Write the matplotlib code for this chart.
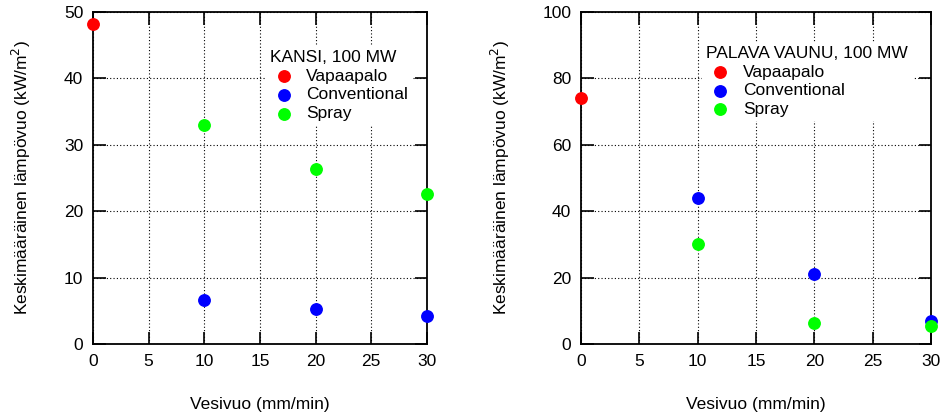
import matplotlib.pyplot as plt

plt.rcParams["font.family"] = ["Liberation Sans", "DejaVu Sans"]
plt.rcParams["font.size"] = 12.5

# Water flow (mm/min)
x_free = [0]
x_sup = [10, 20, 30]

# KANSI, 100 MW
kansi_vapaa = [48.2]
kansi_conv = [6.7, 5.3, 4.2]
kansi_spray = [33.0, 26.3, 22.6]

# PALAVA VAUNU, 100 MW
vaunu_vapaa = [74.0]
vaunu_conv = [44.0, 21.2, 6.8]
vaunu_spray = [30.0, 6.2, 5.3]

red = "#ff0000"
blue = "#0000ff"
green = "#00ff00"

fig = plt.figure(figsize=(9.44, 4.15), dpi=100)
ax1 = fig.add_axes([0.0985, 0.171, 0.3538, 0.800])
ax2 = fig.add_axes([0.6155, 0.171, 0.3708, 0.800])


def draw(ax, vapaa, conv, spray, title, ymax, legx, legy):
    ax.scatter(x_free, vapaa, s=68, color=red, label="Vapaapalo", zorder=3, clip_on=False)
    ax.scatter(x_sup, conv, s=68, color=blue, label="Conventional", zorder=3, clip_on=False)
    ax.scatter(x_sup, spray, s=68, color=green, label="Spray", zorder=3, clip_on=False)
    ax.set_xlim(0, 30)
    ax.set_ylim(0, ymax)
    ax.set_xticks(range(0, 31, 5))
    ax.grid(True, linestyle=(0, (1, 2)), color="black", linewidth=0.8)
    ax.tick_params(direction="in", length=9, width=1.2, top=True, right=True, labelsize=12.5, pad=7)
    for sp in ax.spines.values():
        sp.set_linewidth(1.3)
    ax.set_xlabel("Vesivuo (mm/min)", labelpad=20)
    ax.set_ylabel("Keskimääräinen lämpövuo (kW/m$^2$)", labelpad=22)
    leg = ax.legend(title=title, loc="upper left", bbox_to_anchor=(legx, legy),
                    frameon=True, framealpha=1, edgecolor="none", fancybox=False,
                    alignment="left", handletextpad=0.5, labelspacing=0.2,
                    borderpad=0.25, borderaxespad=0.0, handlelength=1.6,
                    title_fontsize=12.5, fontsize=12.5)
    leg.set_zorder(2)


draw(ax1, kansi_vapaa, kansi_conv, kansi_spray, "KANSI, 100 MW", 50, 0.516, 0.898)
draw(ax2, vaunu_vapaa, vaunu_conv, vaunu_spray, "PALAVA VAUNU, 100 MW", 100, 0.346, 0.911)

fig.savefig("out.png", dpi=100)
